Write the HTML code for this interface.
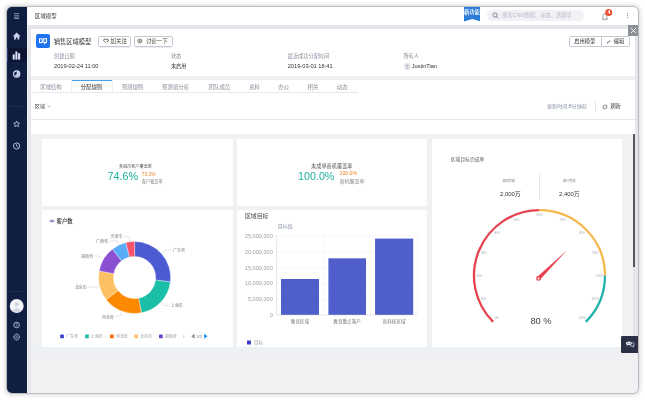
<!DOCTYPE html>
<html><head><meta charset="utf-8">
<style>
*{margin:0;padding:0;box-sizing:border-box}
html,body{width:645px;height:400px;overflow:hidden;background:#fff}
body{font-family:"Liberation Sans","Noto Sans CJK SC",sans-serif;position:relative;color:#333}
.a{position:absolute}
.t{position:absolute;white-space:nowrap;line-height:1}
#win{position:absolute;left:6.5px;top:6.5px;width:631.6px;height:386.6px;border-radius:5px;overflow:hidden;background:#e4e6eb;box-shadow:0 0 0 0.8px #b0b0b0,0 0 4px 1.2px rgba(0,0,0,.16)}
#pg{position:absolute;left:-6.5px;top:-6.5px;width:645px;height:400px;will-change:transform}
</style></head><body>
<div id="win"><div id="pg">
  <!-- sidebar -->
  <div class="a" style="left:0;top:0;width:27.1px;height:400px;background:#101e42"></div>

  <!-- sidebar icons -->
  <svg class="a" style="left:0;top:0" width="28" height="400" viewBox="0 0 28 400">
    <g fill="#6f7a99"><rect x="14" y="13" width="5.1" height="1.3" /><rect x="14" y="15.2" width="5.1" height="1.3"/></g><rect x="14" y="17.5" width="5.1" height="1.3" fill="#9aa6c6"/>
    <path d="M16.7 32.6 L12.9 36.2 H14.1 V39.4 H15.9 V37.4 H17.5 V39.4 H19.3 V36.2 H20.5 Z" fill="#c9d3ee"/>
    <rect x="6.5" y="47.8" width="20.6" height="14.3" fill="#0c1633"/>
    <rect x="6.5" y="47.8" width="1" height="14.3" fill="#3a62d8"/>
    <g fill="#dfe6fb"><rect x="12.7" y="54.4" width="2" height="5.2"/><rect x="15.4" y="51.5" width="2" height="8.1"/><rect x="18.1" y="53.2" width="2" height="6.4"/></g>
    <circle cx="16.7" cy="74" r="3.1" fill="none" stroke="#dfe6fb" stroke-width="1.1"/>
    <path d="M16.7 74 V71.2 A2.8 2.8 0 1 1 14.72 75.98 Z" fill="#c9d3ee"/>
    <rect x="10" y="106.3" width="14" height="0.6" fill="#2a3558"/>
    <path d="M16.6 121.1 L17.5 123 L19.5 123.2 L18 124.6 L18.4 126.6 L16.6 125.6 L14.8 126.6 L15.2 124.6 L13.7 123.2 L15.7 123 Z" fill="none" stroke="#c9d3ee" stroke-width="0.8" stroke-linejoin="round"/>
    <circle cx="16.6" cy="146" r="3.1" fill="none" stroke="#c9d3ee" stroke-width="0.9"/>
    <path d="M16.6 144.2 V146.2 L18 147.2" fill="none" stroke="#c9d3ee" stroke-width="0.8"/>
    <rect x="10" y="291.1" width="14" height="0.6" fill="#2a3558"/>
    <circle cx="16.7" cy="306" r="7" fill="#e9ecf1"/>
    <circle cx="16.7" cy="306" r="6" fill="#f7f8fa"/>
    <circle cx="16.7" cy="304.3" r="2.3" fill="#d3d8e0"/>
    <path d="M12.4 310.5 Q16.7 305.5 21 310.5 Q16.7 313.5 12.4 310.5Z" fill="#d3d8e0"/>
    <circle cx="16.6" cy="325" r="2.8" fill="none" stroke="#c9d3ee" stroke-width="0.8"/>
    <path d="M15.7 324.3 Q15.8 323.4 16.6 323.4 Q17.5 323.4 17.5 324.2 Q17.5 324.8 16.6 325.2 V325.8" fill="none" stroke="#c9d3ee" stroke-width="0.6"/>
    <circle cx="16.6" cy="326.6" r="0.35" fill="#c9d3ee"/>
    <path d="M16.05 334.77 L16.15 333.83 L17.05 333.83 L17.15 334.77 L17.79 335.03 L18.52 334.44 L19.16 335.08 L18.57 335.81 L18.83 336.45 L19.77 336.55 L19.77 337.45 L18.83 337.55 L18.57 338.19 L19.16 338.92 L18.52 339.56 L17.79 338.97 L17.15 339.23 L17.05 340.17 L16.15 340.17 L16.05 339.23 L15.41 338.97 L14.68 339.56 L14.04 338.92 L14.63 338.19 L14.37 337.55 L13.43 337.45 L13.43 336.55 L14.37 336.45 L14.63 335.81 L14.04 335.08 L14.68 334.44 L15.41 335.03 Z" fill="none" stroke="#c9d3ee" stroke-width="0.6" stroke-linejoin="round"/><circle cx="16.6" cy="337" r="0.9" fill="none" stroke="#c9d3ee" stroke-width="0.5"/>
  </svg>
  <!-- top bar -->
  <div class="a" style="left:27.1px;top:0;width:620px;height:24.7px;background:#fff"></div>
  <div class="t" style="left:34.8px;top:13.6px;font-size:5.5px;color:#3a3a3a">区域模型</div>

  <!-- topbar right -->
  <svg class="a" style="left:463.7px;top:6.5px" width="16.5" height="15" viewBox="0 0 16.5 15"><path d="M0 0 H16.5 V14.5 L8.25 12 L0 14.5 Z" fill="#2b7bd8"/></svg>
  <div class="t" style="left:464.1px;top:10.1px;font-size:5.3px;color:#fff;letter-spacing:-0.1px;font-weight:bold;font-family:'Noto Serif CJK SC',serif">新功能</div>
  <div class="a" style="left:487px;top:10.2px;width:97px;height:10.8px;border-radius:5.4px;background:#f1f2f5"></div>
  <svg class="a" style="left:492px;top:12px" width="7" height="7" viewBox="0 0 7 7"><circle cx="3" cy="3" r="2.1" fill="none" stroke="#6b7080" stroke-width="0.8"/><path d="M4.5 4.5 L6.2 6.2" stroke="#6b7080" stroke-width="0.9"/></svg>
  <div class="t" style="left:502.1px;top:13px;font-size:5.25px;color:#b9bdc7">搜索CRM数据、动态、话题等</div>
  <svg class="a" style="left:600px;top:8px" width="14" height="14" viewBox="0 0 14 14">
    <path d="M1.9 11.2 H7.9 M2.9 11.1 V8.4 Q2.9 5.8 4.9 5.8 Q6.9 5.8 6.9 8.4 V11.1 M4.3 12 H5.5" fill="none" stroke="#656a74" stroke-width="0.6"/>
    <circle cx="8.7" cy="4.6" r="3.5" fill="#ee4d2d"/>
  </svg>
  <div class="t" style="left:607.5px;top:9.8px;font-size:5.2px;color:#fff;font-weight:bold">4</div>
  <div class="a" style="left:626.5px;top:12.9px;width:1px;height:1px;background:#8d929a"></div>
  <div class="a" style="left:626.5px;top:15.1px;width:1px;height:1px;background:#8d929a"></div>
  <div class="a" style="left:626.5px;top:17.4px;width:1px;height:1px;background:#8d929a"></div>
  <div class="a" style="left:27.1px;top:24.7px;width:1.3px;height:380px;background:#eff1f5"></div>
  <!-- main panel -->
  <div class="a" style="left:30.5px;top:28.5px;width:604.5px;height:370px;background:#eef0f3"></div>
  <div class="a" style="left:30.5px;top:28.5px;width:604.5px;height:47.5px;background:#fff"></div>
  <div class="a" style="left:30.5px;top:80px;width:604.5px;height:54px;background:#fff"></div>
  <div class="a" style="left:30.5px;top:134px;width:602.2px;height:270px;background:#f1f1f3"></div>

  <!-- header card content -->
  <div class="a" style="left:36px;top:34px;width:14px;height:14px;border-radius:2px;background:#1f73ef"></div>
  <svg class="a" style="left:36px;top:34px" width="14" height="14" viewBox="0 0 14 14">
    <path d="M3 4.3 H6.7 V9.1 H3 Z" fill="#fff"/><path d="M4 5.3 H5.6 V8.1 H4 Z" fill="#1f73ef"/>
    <path d="M7.3 4.3 H11 V9.1 H9.6 L8.4 10.9 L8.1 9.1 H7.3 Z" fill="#fff"/><path d="M8.3 5.3 H9.9 V7.2 L9.1 8.3 L8.3 7.2 Z" fill="#1f73ef"/>
  </svg>
  <div class="t" style="left:53.8px;top:39.1px;font-size:6.25px;color:#333">销售区域模型</div>
  <div class="a" style="left:98.3px;top:36.4px;width:32.6px;height:10.2px;border:0.8px solid #c3c8d3;border-radius:1.8px;box-shadow:0 0.4px 0 #dde0e6"></div>
  <svg class="a" style="left:102.5px;top:38.4px" width="6" height="6" viewBox="0 0 6 6"><path d="M3 5.1 L1 3.1 Q0.3 2.3 0.9 1.4 Q1.9 0.5 3 1.6 Q4.1 0.5 5.1 1.4 Q5.7 2.3 5 3.1 L4.2 3.9 M3.6 3.3 H5.4" fill="none" stroke="#444" stroke-width="0.75"/></svg>
  <div class="t" style="left:110.4px;top:39.3px;font-size:5.5px;color:#444">加关注</div>
  <div class="a" style="left:134.4px;top:36.4px;width:38.2px;height:10.2px;border:0.8px solid #c3c8d3;border-radius:1.8px;box-shadow:0 0.4px 0 #dde0e6"></div>
  <svg class="a" style="left:137.4px;top:38.4px" width="6" height="6" viewBox="0 0 6 6"><circle cx="2.8" cy="3" r="2" fill="none" stroke="#444" stroke-width="0.7"/><path d="M1.8 2.6 H3.8 M1.8 3.5 H3.8" stroke="#444" stroke-width="0.5"/></svg>
  <div class="t" style="left:145.9px;top:39.3px;font-size:5.45px;color:#444">讨论一下</div>

  <div class="t" style="left:54px;top:53.8px;font-size:5.2px;color:#868d9b">创建日期</div>
  <div class="t" style="left:54px;top:63.8px;font-size:5.7px;color:#333">2019-02-24 11:00</div>
  <div class="t" style="left:170.9px;top:53.8px;font-size:5.2px;color:#868d9b">状态</div>
  <div class="t" style="left:170.9px;top:63.8px;font-size:5.2px;color:#333">未启用</div>
  <div class="t" style="left:287.7px;top:53.8px;font-size:5.2px;color:#868d9b">最近成功分配时间</div>
  <div class="t" style="left:287.7px;top:63.8px;font-size:5.7px;color:#333">2019-03-01 18:41</div>
  <div class="t" style="left:403.4px;top:53.8px;font-size:5.2px;color:#868d9b">所有人</div>
  <svg class="a" style="left:403.5px;top:63.4px" width="7" height="7" viewBox="0 0 7 7"><circle cx="3.3" cy="3.3" r="3.1" fill="#e6e9ef" stroke="#c9ced8" stroke-width="0.4"/><circle cx="3.3" cy="2.6" r="1.1" fill="#aeb5c2"/><path d="M1.4 5.4 Q3.3 3.4 5.2 5.4" fill="#aeb5c2"/></svg>
  <div class="t" style="left:411.7px;top:63.8px;font-size:5.6px;color:#333">JustinTian</div>

  <div class="a" style="left:569.3px;top:36.4px;width:60.5px;height:10.8px;border:0.6px solid #c5cad4;border-radius:1.6px"></div>
  <div class="a" style="left:601px;top:36.4px;width:0.6px;height:10.8px;background:#c5cad4"></div>
  <div class="t" style="left:574.2px;top:39.2px;font-size:5.3px;color:#333">启用模型</div>
  <svg class="a" style="left:605.5px;top:39px" width="5" height="6" viewBox="0 0 5 6"><path d="M1.1 4 L4.3 1.6" stroke="#333" stroke-width="0.8"/><path d="M0.8 4.4 L1.6 3.5 L1.9 4.0Z" fill="#333"/></svg>
  <div class="t" style="left:613.7px;top:39.2px;font-size:5.3px;color:#333">编辑</div>

  <!-- tabs -->
  <div class="a" style="left:30.5px;top:91.8px;width:327.5px;height:0.6px;background:#e6e8ed"></div>
  <div class="a" style="left:71.4px;top:80px;width:0.5px;height:12px;background:#eef0f3"></div>
  <div class="a" style="left:71.8px;top:79.6px;width:40.2px;height:12.9px;background:#fff;border-top:1.1px solid #4aa0e6"></div>
  <div class="a" style="left:112px;top:80px;width:0.5px;height:12px;background:#eef0f3"></div>
  <div class="t" style="left:40.2px;top:84.6px;font-size:5.4px;color:#8a909c">区域结构</div>
  <div class="t" style="left:80.7px;top:84.6px;font-size:5.4px;color:#333">分配规则</div>
  <div class="t" style="left:121.7px;top:84.6px;font-size:5.4px;color:#8a909c">预测规则</div>
  <div class="t" style="left:162.1px;top:84.6px;font-size:5.4px;color:#8a909c">预测值分析</div>
  <div class="t" style="left:208.6px;top:84.6px;font-size:5.4px;color:#8a909c">团队成员</div>
  <div class="t" style="left:249px;top:84.6px;font-size:5.4px;color:#8a909c">资料</div>
  <div class="t" style="left:278.3px;top:84.6px;font-size:5.4px;color:#8a909c">办公</div>
  <div class="t" style="left:307.5px;top:84.6px;font-size:5.4px;color:#8a909c">相关</div>
  <div class="t" style="left:336.8px;top:84.6px;font-size:5.4px;color:#8a909c">动态</div>
  <div class="t" style="left:34.8px;top:103.9px;font-size:5.1px;color:#333">区域</div>
  <svg class="a" style="left:46.9px;top:105px" width="4" height="3" viewBox="0 0 4 3"><path d="M0.6 0.8 L2 2 L3.4 0.8" fill="none" stroke="#777" stroke-width="0.5"/></svg>
  <div class="t" style="left:547px;top:104px;font-size:5.1px;color:#8a93a6">更新时间:8分钟前</div>
  <div class="a" style="left:595.3px;top:101.3px;width:0.5px;height:9.3px;background:#dfe2e7"></div>
  <svg class="a" style="left:602.2px;top:103.6px" width="6" height="6" viewBox="0 0 6 6"><path d="M1 3 A2 2 0 0 1 4.6 1.9 M5 3 A2 2 0 0 1 1.4 4.1" fill="none" stroke="#444" stroke-width="0.6"/><path d="M4.9 0.9 V2.3 H3.5 M1.1 5.1 V3.7 H2.5" fill="none" stroke="#444" stroke-width="0.5"/></svg>
  <div class="t" style="left:610.4px;top:104px;font-size:5.2px;color:#333">刷新</div>
  <div class="a" style="left:30.5px;top:118.8px;width:604.5px;height:0.6px;background:#e4e6ea"></div>
  <!-- cards -->
  <div class="a" style="left:42px;top:139px;width:191px;height:66.5px;background:#fff"></div>
  <div class="a" style="left:237px;top:139px;width:190px;height:66.5px;background:#fff"></div>
  <div class="a" style="left:431.5px;top:139px;width:190.3px;height:208px;background:#fff"></div>
  <div class="a" style="left:42px;top:209.5px;width:191px;height:137.5px;background:#fff"></div>
  <div class="a" style="left:237px;top:209.5px;width:190px;height:137.5px;background:#fff"></div>

  <!-- scrollbar -->
  <div class="a" style="left:632.7px;top:134px;width:2.6px;height:220px;background:#e3e4e8"></div>
  <div class="a" style="left:632.7px;top:353.4px;width:7px;height:50px;background:#f0f1f4"></div>
  <div class="a" style="left:632.7px;top:134px;width:2.3px;height:132.5px;background:#55595f"></div>
  <div class="a" style="left:30.5px;top:347px;width:602.2px;height:7px;background:#eef1f3"></div>
  <!-- chat -->
  <div class="a" style="left:620.9px;top:335.9px;width:18px;height:17.5px;border-radius:1.2px 0 0 1.2px;background:#2b3047"></div>
  <svg class="a" style="left:620.9px;top:335.9px" width="18" height="17.5" viewBox="0 0 18 17.5">
    <path d="M11.2 6.6 Q13.2 6.9 13.2 8.4 Q13.2 9.4 12.3 9.8 L12.5 11 L11.2 10.1 Q9.8 10.2 8.9 9.6" fill="none" stroke="#e8eaf0" stroke-width="0.75"/>
    <path d="M4.9 7.1 Q4.9 5.4 7.9 5.4 Q10.9 5.4 10.9 7.2 Q10.9 9 7.9 9 L6.7 9 L5.7 10.4 L5.8 8.7 Q4.9 8.2 4.9 7.1Z" fill="#e8eaf0"/>
    <circle cx="6.5" cy="7.2" r="0.45" fill="#2b3047"/><circle cx="7.9" cy="7.2" r="0.45" fill="#2b3047"/><circle cx="9.3" cy="7.2" r="0.45" fill="#2b3047"/>
  </svg>
  <!-- close -->
  <div class="a" style="left:628.1px;top:24.7px;width:11px;height:10.9px;background:#8b9099"></div>
  <svg class="a" style="left:628.1px;top:24.7px" width="11" height="11" viewBox="0 0 11 11"><path d="M3 3 L8 8 M8 3 L3 8" stroke="#fff" stroke-width="0.9"/></svg>

  <!-- KPI cards -->
  <div class="t" style="left:118.8px;top:164.6px;font-size:4.15px;color:#555">多城市客户覆盖率</div>
  <div class="t" style="left:107.4px;top:171.4px;font-size:10.8px;color:#1bb19f">74.6%</div>
  <div class="t" style="left:141.8px;top:172.9px;font-size:4.8px;color:#ee7f1c">73.3%</div>
  <div class="t" style="left:141.8px;top:179.9px;font-size:4.2px;color:#888">客户覆盖率</div>
  <div class="t" style="left:311px;top:164.1px;font-size:5.2px;color:#555">未成单商机覆盖率</div>
  <div class="t" style="left:298.1px;top:170.6px;font-size:10.7px;color:#1bb19f">100.0%</div>
  <div class="t" style="left:339.5px;top:171.2px;font-size:5.2px;color:#ee7f1c">100.0%</div>
  <div class="t" style="left:339.5px;top:178.7px;font-size:5px;color:#888">商机覆盖率</div>
  <!-- gauge card -->
  <div class="t" style="left:450.7px;top:157.5px;font-size:4.8px;color:#555">区域目标完成率</div>
  <div class="t" style="left:502.4px;top:179.7px;font-size:3.1px;color:#777">实际完成</div>
  <div class="t" style="left:562.9px;top:179.7px;font-size:3.1px;color:#777">预计完成</div>
  <div class="t" style="left:500px;top:191.8px;font-size:5.9px;color:#333">2,000万</div>
  <div class="t" style="left:559px;top:191.8px;font-size:5.9px;color:#333">2,400万</div>
  <div class="a" style="left:539.4px;top:174.3px;width:0.5px;height:26px;background:#e3e5e9"></div>

  <svg class="a" style="left:0;top:0" width="645" height="400" viewBox="0 0 645 400">
    <path d="M493.18 321.92 A65.5 65.5 0 0 1 539.50 210.10" fill="none" stroke="#e5444f" stroke-width="2.3"/><path d="M539.50 210.10 A65.5 65.5 0 0 1 605.00 275.60" fill="none" stroke="#f7b84f" stroke-width="2.3"/><path d="M605.00 275.60 A65.5 65.5 0 0 1 585.82 321.92" fill="none" stroke="#20b2aa" stroke-width="2.3"/>
    <g font-family="Liberation Sans, sans-serif" font-size="2.9" fill="#a0a4ab"><text x="496.86" y="319.29" text-anchor="middle">0%</text><text x="483.79" y="299.73" text-anchor="middle">10%</text><text x="479.20" y="276.65" text-anchor="middle">20%</text><text x="483.79" y="253.57" text-anchor="middle">30%</text><text x="496.86" y="234.01" text-anchor="middle">40%</text><text x="516.42" y="220.94" text-anchor="middle">50%</text><text x="539.50" y="216.35" text-anchor="middle">60%</text><text x="562.58" y="220.94" text-anchor="middle">70%</text><text x="582.14" y="234.01" text-anchor="middle">80%</text><text x="595.21" y="253.57" text-anchor="middle">90%</text><text x="599.80" y="276.65" text-anchor="middle">100%</text><text x="595.21" y="299.73" text-anchor="middle">110%</text><text x="582.14" y="319.29" text-anchor="middle">120%</text></g>
    <path d="M539.91 279.82 L567.30 249.90 L537.09 276.98 Z" fill="#e5444f"/><circle cx="538.5" cy="278.4" r="2.4" fill="#e5444f"/><circle cx="538.5" cy="278.4" r="1.0" fill="#fff"/>
  </svg>
  <div class="t" style="left:530.4px;top:317.3px;font-size:9.3px;color:#3d3d3d">80 %</div>

  <!-- donut -->
  <svg class="a" style="left:0;top:0" width="645" height="400" viewBox="0 0 645 400">
    <path d="M134.60 241.50 A36 36 0 0 1 170.33 281.89 L155.54 280.07 A21.1 21.1 0 0 0 134.60 256.40 Z" fill="#4d5bd3" stroke="#fff" stroke-width="0.35"/><path d="M170.33 281.89 A36 36 0 0 1 141.47 312.84 L138.63 298.21 A21.1 21.1 0 0 0 155.54 280.07 Z" fill="#1bbfa7" stroke="#fff" stroke-width="0.35"/><path d="M141.47 312.84 A36 36 0 0 1 106.23 299.66 L117.97 290.49 A21.1 21.1 0 0 0 138.63 298.21 Z" fill="#fd8903" stroke="#fff" stroke-width="0.35"/><path d="M106.23 299.66 A36 36 0 0 1 99.20 270.94 L113.85 273.65 A21.1 21.1 0 0 0 117.97 290.49 Z" fill="#fdc164" stroke="#fff" stroke-width="0.35"/><path d="M99.20 270.94 A36 36 0 0 1 112.44 249.13 L121.61 260.87 A21.1 21.1 0 0 0 113.85 273.65 Z" fill="#8b50d1" stroke="#fff" stroke-width="0.35"/><path d="M112.44 249.13 A36 36 0 0 1 125.89 242.57 L129.50 257.03 A21.1 21.1 0 0 0 121.61 260.87 Z" fill="#58abf7" stroke="#fff" stroke-width="0.35"/><path d="M125.89 242.57 A36 36 0 0 1 134.60 241.50 L134.60 256.40 A21.1 21.1 0 0 0 129.50 257.03 Z" fill="#f4536a" stroke="#fff" stroke-width="0.35"/>
    <path d="M161.94 253.31 L165.31 250.33 L171.70 250.00" fill="none" stroke="#b9bcc4" stroke-width="0.4"/><path d="M161.29 302.39 L164.59 305.46 L169.50 305.40" fill="none" stroke="#b9bcc4" stroke-width="0.4"/><path d="M121.82 311.69 L120.24 315.90 L114.90 316.30" fill="none" stroke="#b9bcc4" stroke-width="0.4"/><path d="M99.18 286.33 L94.82 287.42 L87.90 286.70" fill="none" stroke="#b9bcc4" stroke-width="0.4"/><path d="M103.31 258.70 L99.46 256.38 L94.30 255.60" fill="none" stroke="#b9bcc4" stroke-width="0.4"/><path d="M118.60 244.69 L116.63 240.65 L109.30 241.40" fill="none" stroke="#b9bcc4" stroke-width="0.4"/><path d="M130.15 241.27 L129.60 236.81 L123.50 236.10" fill="none" stroke="#b9bcc4" stroke-width="0.4"/>
    <g font-family="Liberation Sans, Noto Sans CJK SC, sans-serif" font-size="4" fill="#777"><text x="172.9" y="252.00" text-anchor="start">广东省</text><text x="170.7" y="307.40" text-anchor="start">上海市</text><text x="113.7" y="318.70" text-anchor="end">河北省</text><text x="86.7" y="289.00" text-anchor="end">北京市</text><text x="93.1" y="257.70" text-anchor="end">湖南省</text><text x="108.1" y="242.80" text-anchor="end">广西省</text><text x="122.3" y="237.50" text-anchor="end">天津市</text></g>
    <g font-family="Liberation Sans, Noto Sans CJK SC, sans-serif" font-size="4" fill="#999"><rect x="60.2" y="334.6" width="3.7" height="3.7" rx="0.6" fill="#3b3fd0"/><text x="65.9" y="337.9">广东省</text><rect x="85.1" y="334.6" width="3.7" height="3.7" rx="0.6" fill="#1bbfa7"/><text x="90.8" y="337.9">上海市</text><rect x="110" y="334.6" width="3.7" height="3.7" rx="0.6" fill="#fd6a03"/><text x="115.7" y="337.9">河北省</text><rect x="134.3" y="334.6" width="3.7" height="3.7" rx="0.6" fill="#fdc164"/><text x="140.0" y="337.9">北京市</text><rect x="159" y="334.6" width="3.7" height="3.7" rx="0.6" fill="#6a3fd0"/><text x="164.7" y="337.9">湖南省</text><rect x="183.3" y="334.8" width="0.9" height="3.3" fill="#a9d3f7"/><path d="M194.6 333.7 L191.2 336.2 L194.6 338.7 Z" fill="#8e9299"/><text x="196.2" y="337.9" fill="#777">1/2</text><path d="M204.2 333.7 L207.6 336.2 L204.2 338.7 Z" fill="#1a8ff0"/></g>
  </svg>
  <svg class="a" style="left:49px;top:219.4px" width="6" height="4" viewBox="0 0 6 4"><path d="M0.6 2 Q3 -0.3 5.4 2 Q3 4.3 0.6 2Z" fill="none" stroke="#55599e" stroke-width="0.6"/><circle cx="3" cy="2" r="0.75" fill="#55599e"/></svg>
  <div class="t" style="left:56.5px;top:219px;font-size:5.4px;color:#333;font-weight:500">客户数</div>

  <!-- bar chart -->
  <svg class="a" style="left:0;top:0" width="645" height="400" viewBox="0 0 645 400">
    <path d="M276.6 299.20 H417.6" stroke="#e6e8ec" stroke-width="0.5" stroke-dasharray="1.6 1.2"/><path d="M276.6 283.40 H417.6" stroke="#e6e8ec" stroke-width="0.5" stroke-dasharray="1.6 1.2"/><path d="M276.6 267.60 H417.6" stroke="#e6e8ec" stroke-width="0.5" stroke-dasharray="1.6 1.2"/><path d="M276.6 251.80 H417.6" stroke="#e6e8ec" stroke-width="0.5" stroke-dasharray="1.6 1.2"/><path d="M276.6 236.00 H417.6" stroke="#e6e8ec" stroke-width="0.5" stroke-dasharray="1.6 1.2"/><path d="M323.6 236.00 V315.0" stroke="#e6e8ec" stroke-width="0.5" stroke-dasharray="1.6 1.2"/><path d="M370.6 236.00 V315.0" stroke="#e6e8ec" stroke-width="0.5" stroke-dasharray="1.6 1.2"/><path d="M417.6 236.00 V315.0" stroke="#e6e8ec" stroke-width="0.5" stroke-dasharray="1.6 1.2"/><rect x="281" y="279" width="38.0" height="36.0" fill="#4f5ecb"/><rect x="328.4" y="258.3" width="37.6" height="56.7" fill="#4f5ecb"/><rect x="375.1" y="238.6" width="38.1" height="76.4" fill="#4f5ecb"/><path d="M276.6 235.50 V315.0" stroke="#c9ccd3" stroke-width="0.5"/><path d="M276.6 315.0 H417.6" stroke="#c9ccd3" stroke-width="0.5"/>
    <g font-family="Liberation Sans, Noto Sans CJK SC, sans-serif" font-size="5.6" fill="#9a9ea6"><text x="272.8" y="238.00" text-anchor="end">25,000,000</text><text x="272.8" y="253.80" text-anchor="end">20,000,000</text><text x="272.8" y="269.60" text-anchor="end">15,000,000</text><text x="272.8" y="285.40" text-anchor="end">10,000,000</text><text x="272.8" y="301.20" text-anchor="end">5,000,000</text><text x="272.8" y="317.00" text-anchor="end">0</text></g>
    <g font-family="Liberation Sans, Noto Sans CJK SC, sans-serif" font-size="4.6" fill="#777"><text x="300" y="323.2" text-anchor="middle">教育区域</text><text x="347.1" y="323.2" text-anchor="middle">教育重点客户</text><text x="394.1" y="323.2" text-anchor="middle">高科技区域</text></g>
    <rect x="247" y="340.4" width="4" height="4" rx="0.5" fill="#3d3fc8"/>
    <text x="254" y="344" font-family="Liberation Sans, Noto Sans CJK SC, sans-serif" font-size="4.6" fill="#999">目标</text>
  </svg>
  <div class="t" style="left:244.9px;top:213.9px;font-size:5.9px;color:#444">区域目标</div>
  <div class="t" style="left:277.8px;top:224.1px;font-size:5px;color:#8a93a6">目标值</div>
</div></div>
</body></html>
